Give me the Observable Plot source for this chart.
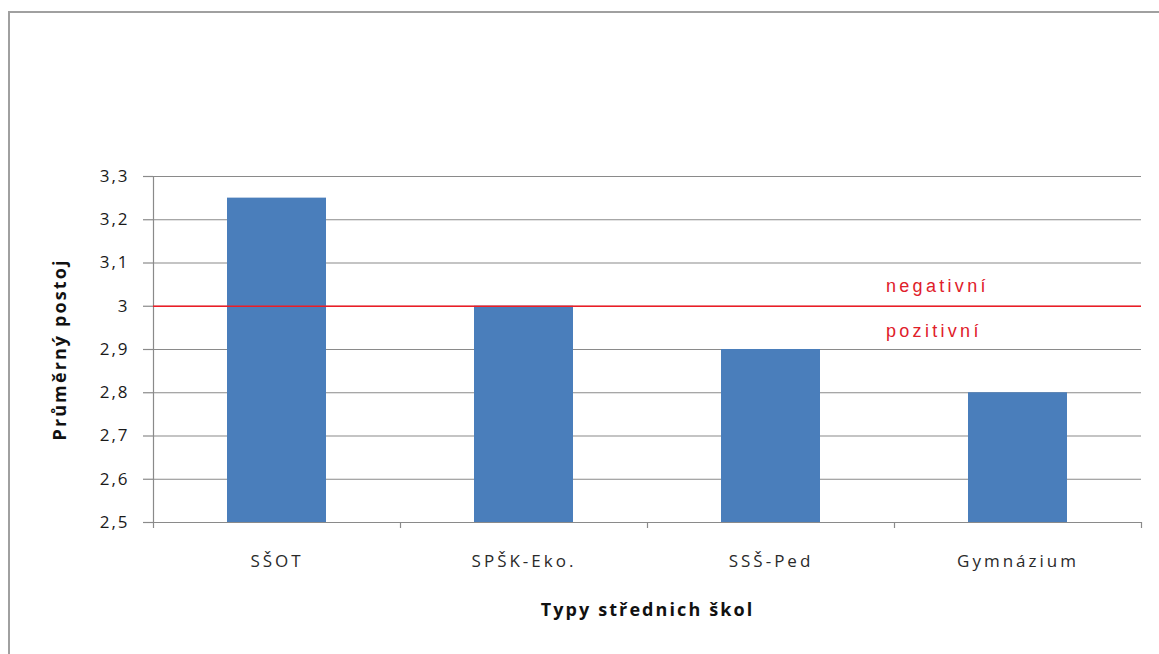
<!DOCTYPE html>
<html>
<head>
<meta charset="utf-8">
<script src="https://cdn.jsdelivr.net/npm/d3@7"></script>
<script src="https://cdn.jsdelivr.net/npm/@observablehq/plot@0.6"></script>
<style>
  html, body { margin: 0; padding: 0; background: #fff; overflow: hidden; }
  #chart { position: relative; width: 1159px; height: 654px; }
  #border { position: absolute; left: 8px; top: 11px; width: 1300px; height: 800px;
            border: 2px solid #a0a0a0; box-sizing: border-box; }
  #chart svg { position: absolute; left: 0; top: 0; }
  #chart svg text { font-family: "Open Sans", sans-serif; }
  #chart g[aria-label="y-axis tick label"] text { letter-spacing: 2px; }
  #chart g[aria-label="x-axis tick label"] text { letter-spacing: 3px; }
  #chart text.title { letter-spacing: 2.1px; }
  #chart text.zone { font-family: "Liberation Sans", sans-serif; letter-spacing: 3.3px; }
</style>
</head>
<body>
<div id="chart"><div id="border"></div></div>
<script>
// Mean attitude by type of secondary school
const schools = ["SŠOT", "SPŠK-Eko.", "SSŠ-Ped", "Gymnázium"];
const attitude = [3.25, 3.0, 2.9, 2.8];
const yTicks = [2.5, 2.6, 2.7, 2.8, 2.9, 3.0, 3.1, 3.2, 3.3];
const neutral = 3;              // boundary between the two attitude zones
const zoneAbove = ["negativní"];
const zoneBelow = ["pozitivní"];
const yTitle = ["Průměrný postoj"];
const xTitle = ["Typy střednich škol"];

const W = 1159, H = 654;
const mL = 153, mR = 18, mT = 176, mB = 132;
const step = (W - mL - mR) / schools.length;
const yMin = yTicks[0], yMax = yTicks[yTicks.length - 1];

const data = schools.map((school, i) => ({school, value: attitude[i]}));
const fmt = d => String(+d.toFixed(1)).replace(".", ",");
const axisGray = "#8a8a8a";

const chart = Plot.plot({
  width: W,
  height: H,
  marginLeft: mL,
  marginRight: mR,
  marginTop: mT,
  marginBottom: mB,
  style: {background: "transparent", fontSize: "17px", color: "#222"},
  x: {domain: schools, paddingInner: 0.6, paddingOuter: 0.3},
  y: {domain: [yMin, yMax]},
  marks: [
    Plot.gridY(yTicks, {stroke: axisGray, strokeOpacity: 1, strokeWidth: 1.2}),
    Plot.axisY(yTicks, {tickSize: 10, tickPadding: 14, tickFormat: fmt, stroke: axisGray,
                        strokeWidth: 1.2, fill: "#1a1a1a", fontSize: 17, label: null}),
    Plot.barY(data, {x: "school", y1: yMin, y2: "value", fill: "#4a7ebb"}),
    Plot.frame({anchor: "left", stroke: axisGray, strokeWidth: 1.2}),
    Plot.ruleY([yMin], {stroke: axisGray, strokeWidth: 1.2}),
    // category boundary ticks
    Plot.axisX({tickSize: 6, tickFormat: () => "", dx: -step / 2, stroke: axisGray,
                strokeWidth: 1.2, label: null}),
    Plot.axisX([schools[schools.length - 1]], {tickSize: 6, tickFormat: () => "", dx: step / 2,
                stroke: axisGray, strokeWidth: 1.2, label: null}),
    // category labels
    Plot.axisX({tickSize: 0, tickPadding: 32, fill: "#2a2a2a", fontSize: 17, label: null}),
    Plot.ruleY([neutral], {stroke: "#ee1c25", strokeWidth: 1.6}),
    Plot.text(zoneAbove, {x: () => schools[3], y: () => neutral, dx: -132, dy: -20,
                          textAnchor: "start", fill: "#e0202a", fontSize: 18}),
    Plot.text(zoneBelow, {x: () => schools[3], y: () => neutral, dx: -132, dy: 25,
                          textAnchor: "start", fill: "#e0202a", fontSize: 18}),
    Plot.text(xTitle, {frameAnchor: "bottom", dy: 93, textAnchor: "middle", fontWeight: "bold",
                       fontSize: 18, fill: "#111"}),
    Plot.text(yTitle, {frameAnchor: "left", dx: -93, textAnchor: "middle", rotate: -90,
                       fontWeight: "bold", fontSize: 18, fill: "#111"})
  ]
});

// tag the annotation and title texts for styling
const zoneTexts = zoneAbove.concat(zoneBelow);
const titleTexts = xTitle.concat(yTitle);
d3.select(chart).selectAll("text")
  .classed("zone", function () { return zoneTexts.includes(this.textContent); })
  .classed("title", function () { return titleTexts.includes(this.textContent); });

document.getElementById("chart").appendChild(chart);
</script>
</body>
</html>
